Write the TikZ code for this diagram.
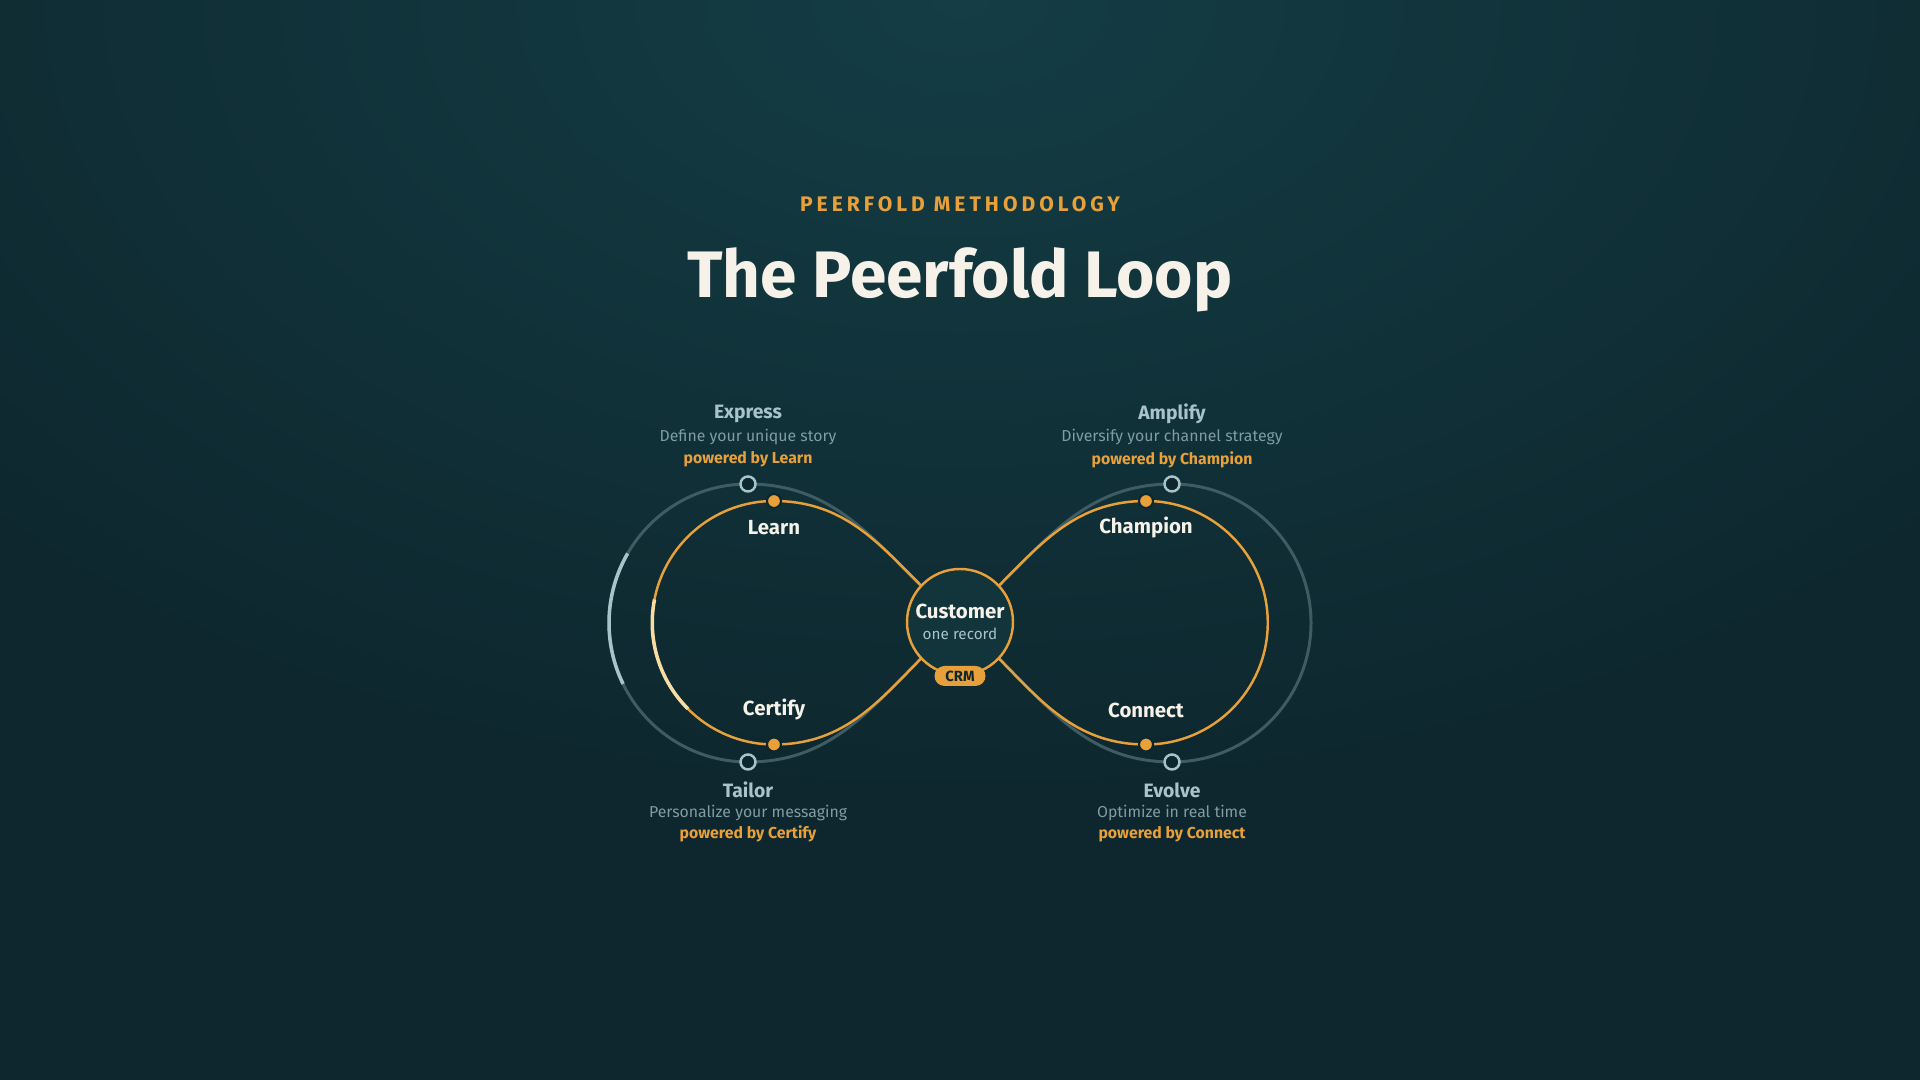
\documentclass[tikz,border=0pt]{standalone}
\usepackage{fontspec}
\setmainfont{Fira Sans}
\definecolor{bgdark}{HTML}{0E272E}
\definecolor{bgglow}{HTML}{143D45}
\definecolor{loopor}{HTML}{E8A13A}
\definecolor{loopgray}{HTML}{3E5C62}
\definecolor{ringgray}{HTML}{A9C4C9}
\definecolor{cream}{HTML}{F6F2E9}
\definecolor{mutedgray}{HTML}{7F9CA2}
\definecolor{palegold}{HTML}{F7DCA4}
\definecolor{custfill}{HTML}{12343B}

\begin{document}
\begin{tikzpicture}[
	stage/.style={font=\bfseries\fontsize{5.5}{6}\selectfont,text=ringgray,inner sep=0pt},
	desc/.style={font=\fontsize{4.5}{5}\selectfont,text=mutedgray,inner sep=0pt},
	power/.style={font=\bfseries\fontsize{4.5}{5}\selectfont,text=loopor,inner sep=0pt},
	tool/.style={font=\bfseries\fontsize{5.8}{6}\selectfont,text=cream,inner sep=0pt},
	dot/.style={circle,fill=loopor,draw=bgdark,line width=0.6pt,minimum size=0.14cm,inner sep=0pt},
	ring/.style={circle,fill=bgdark,draw=ringgray,line width=0.7pt,minimum size=0.15cm,inner sep=0pt},
	outerloop/.style={draw=loopgray,line width=0.85pt},
	innerloop/.style={draw=loopor,line width=0.7pt}]
	\useasboundingbox (0,0) rectangle (19.2,10.8);
	\fill[bgdark] (0,0) rectangle (19.2,10.8);
	\begin{scope}
		\clip (0,0) rectangle (19.2,10.8);
		\shade[inner color=bgglow,outer color=bgdark] (9.6,10.8) ellipse (13 and 8);
	\end{scope}

	% heading
	\node[font=\bfseries\fontsize{6}{7}\selectfont\addfontfeature{LetterSpace=19},text=loopor] (kicker) at (9.6,8.755) {PEERFOLD METHODOLOGY};
	\node[font=\bfseries\fontsize{18.7}{21}\selectfont,text=cream] (title) at (9.6,8.0) {The Peerfold Loop};

	\coordinate (C) at (9.6,4.58);
	\coordinate (express) at (7.48,5.96);
	\coordinate (tailor) at (7.48,3.18);
	\coordinate (amplify) at (11.72,5.96);
	\coordinate (evolve) at (11.72,3.18);
	\coordinate (learn) at (7.74,5.79);
	\coordinate (certify) at (7.74,3.355);
	\coordinate (champion) at (11.46,5.79);
	\coordinate (connect) at (11.46,3.355);

	% outer loop
	\draw[outerloop] (C) to[out=140,in=0] (express) arc[start angle=90,end angle=270,radius=1.39] to[out=0,in=-140] (C);
	\draw[outerloop] (C) to[out=40,in=180] (amplify) arc[start angle=90,end angle=-90,radius=1.39] to[out=180,in=-40] (C);
	\draw[ringgray,line width=1pt] (7.48,4.57) ++(150:1.39) arc[start angle=150,end angle=206,radius=1.39];

	% inner loop
	\draw[innerloop] (C) to[out=140,in=0] (learn) arc[start angle=90,end angle=270,radius=1.2175] to[out=0,in=-140] (C);
	\draw[innerloop] (C) to[out=40,in=180] (champion) arc[start angle=90,end angle=-90,radius=1.2175] to[out=180,in=-40] (C);
	\draw[palegold,line width=1pt] (7.74,4.5725) ++(169:1.2175) arc[start angle=169,end angle=225,radius=1.2175];

	\node[ring] (expressring) at (express) {};
	\node[ring] (tailorring) at (tailor) {};
	\node[ring] (amplifyring) at (amplify) {};
	\node[ring] (evolvering) at (evolve) {};
	\node[dot] (learndot) at (learn) {};
	\node[dot] (certifydot) at (certify) {};
	\node[dot] (championdot) at (champion) {};
	\node[dot] (connectdot) at (connect) {};

	% hub
	\node[circle,draw=loopor,fill=custfill,line width=0.7pt,minimum size=1.06cm] (hub) at (C) {};
	\node[tool] (custname) at (9.6,4.69) {Customer};
	\node[desc,text=ringgray,font=\fontsize{4.35}{5}\selectfont] (custsub) at (9.6,4.46) {one record};
	\node[fill=loopor,rounded corners=0.1cm,minimum width=0.51cm,minimum height=0.2cm,inner sep=0pt,text=bgdark,font=\bfseries\fontsize{4.2}{4}\selectfont] (crm) at (9.6,4.04) {CRM};

	% tools
	\node[tool] (learnlbl) at (7.74,5.52) {Learn};
	\node[tool] (certifylbl) at (7.74,3.70) {Certify};
	\node[tool] (championlbl) at (11.46,5.52) {Champion};
	\node[tool] (connectlbl) at (11.46,3.70) {Connect};

	% stages
	\node[stage] (expresslbl) at (7.48,6.66) {Express};
	\node[desc] (expressdesc) at (7.48,6.43) {Define your unique story};
	\node[power] (expresspow) at (7.48,6.205) {powered by Learn};
	\node[stage] (amplifylbl) at (11.72,6.66) {Amplify};
	\node[desc] (amplifydesc) at (11.72,6.43) {Diversify your channel strategy};
	\node[power] (amplifypow) at (11.72,6.205) {powered by Champion};
	\node[stage] (tailorlbl) at (7.48,2.90) {Tailor};
	\node[desc] (tailordesc) at (7.48,2.67) {Personalize your messaging};
	\node[power] (tailorpow) at (7.48,2.46) {powered by Certify};
	\node[stage] (evolvelbl) at (11.72,2.90) {Evolve};
	\node[desc] (evolvedesc) at (11.72,2.67) {Optimize in real time};
	\node[power] (evolvepow) at (11.72,2.46) {powered by Connect};
\end{tikzpicture}
\end{document}
